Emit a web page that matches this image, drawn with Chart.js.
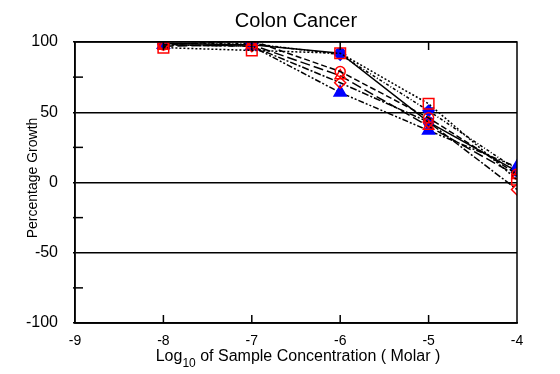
<!DOCTYPE html>
<html>
<head>
<meta charset="utf-8">
<script src="https://cdn.jsdelivr.net/npm/chart.js@4/dist/chart.umd.min.js"></script>
<style>
html,body{margin:0;padding:0;background:#fff;}
#wrap{width:560px;height:374px;}
</style>
</head>
<body>
<div id="wrap"><canvas id="c" width="560" height="374"></canvas></div>
<script>
const concentrations = [-8, -7, -6, -5, -4];
const seriesNames = ['COLO 205', 'HCC-2998', 'HCT-116', 'HCT-15', 'HT29', 'KM12', 'SW-620'];
const redSquare   = [96, 94, 92, 56, 2];
const redCircle   = [98, 101, 79, 46, 6];
const redDiamond  = [98, 97, 71, 43, -5];
const redTriangle = [97, 98, 76, 40, 5];
const blueCircle  = [99, 98, 92, 43, 8];
const blueDiamond = [99, 99, 91, 51, 9];
const blueTriangle= [98, 97, 64, 37, 11];
const yTicks = [-100, -50, 0, 50, 100];
const xTicks = [-9, -8, -7, -6, -5, -4];

const RED = '#ff0000', BLUE = '#0000ff';
function mk(label, vals, style, color, filled, radius, dash) {
  return {
    label, data: vals.map((v, i) => ({x: concentrations[i], y: v})),
    borderColor: '#000', borderWidth: 1.5, borderDash: dash, tension: 0,
    pointStyle: style, pointRadius: radius, pointBorderWidth: 1.5,
    pointBorderColor: color, pointBackgroundColor: filled ? color : 'rgba(0,0,0,0)',
    fill: false
  };
}
const datasets = [
  mk(seriesNames[0], redSquare, 'rect', RED, false, 7.5, [2, 2]),
  mk(seriesNames[1], redCircle, 'circle', RED, false, 5, [6, 3]),
  mk(seriesNames[2], redDiamond, 'rectRot', RED, false, 5.5, [7, 2, 2, 2]),
  mk(seriesNames[3], redTriangle, 'triangle', RED, false, 6, [10, 4]),
  mk(seriesNames[4], blueCircle, 'circle', BLUE, true, 5, []),
  mk(seriesNames[5], blueDiamond, 'rectRot', BLUE, true, 5.5, [3, 2, 1, 2]),
  mk(seriesNames[6], blueTriangle, 'triangle', BLUE, true, 7, [6, 2, 2, 2, 2, 2])
];

const deco = {
  id: 'deco',
  afterDraw(chart) {
    const ctx = chart.ctx, a = chart.chartArea;
    const xs = chart.scales.x, ys = chart.scales.y;
    ctx.save();
    ctx.strokeStyle = '#000'; ctx.lineWidth = 1.5;
    ctx.strokeRect(a.left, a.top, a.right - a.left, a.bottom - a.top);
    [75, 25, -25, -75].forEach(v => {
      const y = ys.getPixelForValue(v);
      ctx.beginPath(); ctx.moveTo(a.left - 2, y); ctx.lineTo(a.left + 8, y); ctx.stroke();
    });
    xTicks.slice(1, -1).forEach(v => {
      const x = xs.getPixelForValue(v);
      ctx.beginPath(); ctx.moveTo(x, a.bottom); ctx.lineTo(x, a.bottom - 8); ctx.stroke();
      ctx.beginPath(); ctx.moveTo(x, a.top); ctx.lineTo(x, a.top + 8); ctx.stroke();
    });
    ctx.fillStyle = '#000';
    ctx.textAlign = 'center'; ctx.textBaseline = 'middle';
    ctx.font = '20px "Liberation Sans", Arial, sans-serif';
    ctx.fillText('Colon Cancer', (a.left + a.right) / 2, 21);
    ctx.save();
    ctx.translate(33, 178);
    ctx.rotate(-Math.PI / 2);
    ctx.font = '14px "Liberation Sans", Arial, sans-serif';
    ctx.fillText('Percentage Growth', 0, 0);
    ctx.restore();
    const big = '16px "Liberation Sans", Arial, sans-serif';
    const small = '12px "Liberation Sans", Arial, sans-serif';
    const p1 = 'Log', p2 = '10', p3 = ' of Sample Concentration ( Molar )';
    ctx.font = big; const w1 = ctx.measureText(p1).width, w3 = ctx.measureText(p3).width;
    ctx.font = small; const w2 = ctx.measureText(p2).width;
    let x0 = (a.left + a.right) / 2 - (w1 + w2 + w3) / 2 + 2;
    const yb = 361;
    ctx.textAlign = 'left'; ctx.textBaseline = 'alphabetic';
    ctx.font = big; ctx.fillText(p1, x0, yb); x0 += w1;
    ctx.font = small; ctx.fillText(p2, x0, yb + 6); x0 += w2;
    ctx.font = big; ctx.fillText(p3, x0, yb);
    ctx.restore();
  }
};

new Chart(document.getElementById('c'), {
  type: 'line',
  data: { datasets },
  options: {
    responsive: false, animation: false,
    layout: { padding: { top: 42, right: 43, left: 0, bottom: 0 } },
    plugins: { legend: { display: false }, tooltip: { enabled: false }, title: { display: false } },
    scales: {
      x: {
        type: 'linear', min: -9, max: -4,
        afterFit(s) { s.height = 51; },
        afterBuildTicks(s) { s.ticks = xTicks.map(v => ({ value: v })); },
        grid: { display: false, drawTicks: false },
        border: { display: true, color: '#000', width: 1.5 },
        ticks: { color: '#000', padding: 10, maxRotation: 0, autoSkip: false,
                 font: { family: '"Liberation Sans", Arial, sans-serif', size: 14 },
                 callback: v => String(v) }
      },
      y: {
        type: 'linear', min: -100, max: 100,
        afterFit(s) { s.width = 75; },
        afterBuildTicks(s) { s.ticks = yTicks.map(v => ({ value: v })); },
        grid: { color: '#000', lineWidth: 1.5, drawTicks: true, tickLength: 2 },
        border: { display: true, color: '#000', width: 1.5 },
        ticks: { color: '#000', padding: 15,
                 font: { family: '"Liberation Sans", Arial, sans-serif', size: 16 },
                 callback: v => String(v) }
      }
    }
  },
  plugins: [deco]
});
</script>
</body>
</html>
